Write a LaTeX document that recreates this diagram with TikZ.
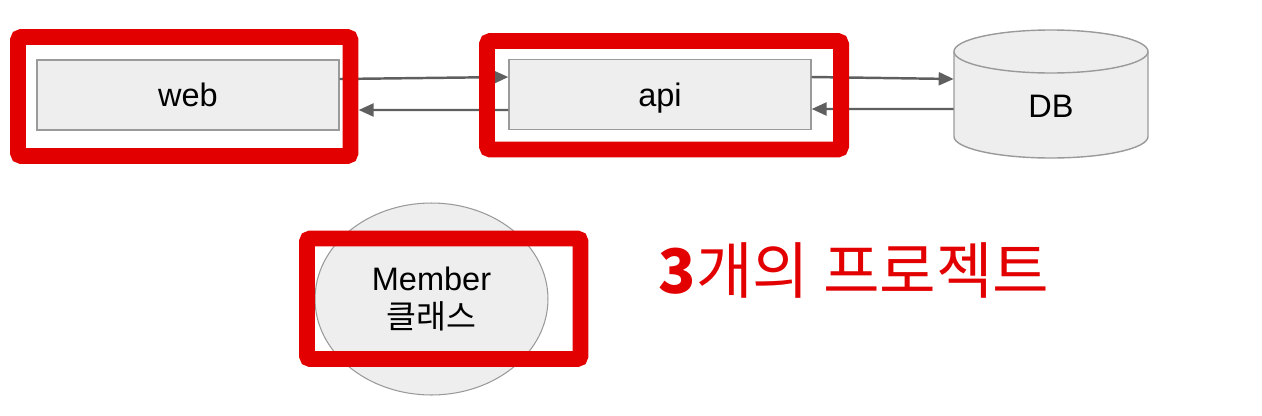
\documentclass[tikz,border=0pt]{standalone}
\usepackage{fontspec}
\setmainfont{Liberation Sans}
\newfontfamily\kofont{Noto Sans CJK KR}
\usetikzlibrary{arrows.meta}
\usetikzlibrary{shapes.geometric}
\definecolor{boxgray}{HTML}{EEEEEE}
\definecolor{linegray}{HTML}{9A9A9A}
\definecolor{arrowgray}{HTML}{5F5F5F}
\definecolor{markred}{HTML}{E20000}

\begin{document}
\begin{tikzpicture}[x=0.02cm,y=-0.02cm,
        module/.style={draw=linegray,fill=boxgray,line width=0.8pt,minimum width=6.04cm,minimum height=1.4cm,text height=0.47cm,text depth=0cm,font=\fontsize{18.5}{22}\selectfont},
        flow/.style={draw=arrowgray,line width=1.4pt,-{Triangle[length=0.3cm,width=0.26cm]}},
        redmark/.style={draw=markred,line width=9.1pt,rounded corners=2pt}]
                \useasboundingbox (0,0) rectangle (1262,416);

                \node[module] (web) at (188,95) {web};
                \node[module] (api) at (660,94.5) {api};
                % DB cylinder
                \path[fill=boxgray,draw=linegray,line width=0.8pt] (954,51.5) -- (954,136.5) arc[start angle=180,end angle=0,x radius=97,y radius=21.5] -- (1148,51.5) arc[start angle=0,end angle=-180,x radius=97,y radius=21.5] -- cycle;
                \draw[linegray,line width=0.8pt] (954,51.5) arc[start angle=180,end angle=0,x radius=97,y radius=21.5];
                \node[minimum width=3.88cm,minimum height=2.56cm,font=\fontsize{18.5}{22}\selectfont] (db) at (1051,106) {DB};
                \node[ellipse,draw=linegray,fill=boxgray,line width=0.6pt,minimum width=4.66cm,minimum height=3.84cm,align=center,font=\fontsize{18.5}{21.5}\selectfont] (member) at (431.5,299) {Member\\{\kofont 클래스}};

                \draw[flow] ([yshift=0.32cm]web.east) to ([yshift=0.35cm]api.west);
                \draw[flow] ([yshift=-0.31cm]api.west) to ([xshift=0.38cm,yshift=-0.3cm]web.east);
                \draw[flow] ([yshift=0.35cm]api.east) to ([yshift=0.54cm]db.west);
                \draw[flow] ([yshift=-0.06cm]db.west) to ([yshift=-0.29cm]api.east);

                % red marks
                \draw[redmark] (18,37) rectangle (350.5,156);
                \draw[redmark] (487,41) rectangle (841,149.5);
                \draw[redmark] (307,238.5) rectangle (580.5,359);

                \node[text=markred,font=\kofont\fontsize{35}{40}\selectfont] (title) at (854,270) {\textbf{3}개의 프로젝트};
            \end{tikzpicture}
\end{document}
